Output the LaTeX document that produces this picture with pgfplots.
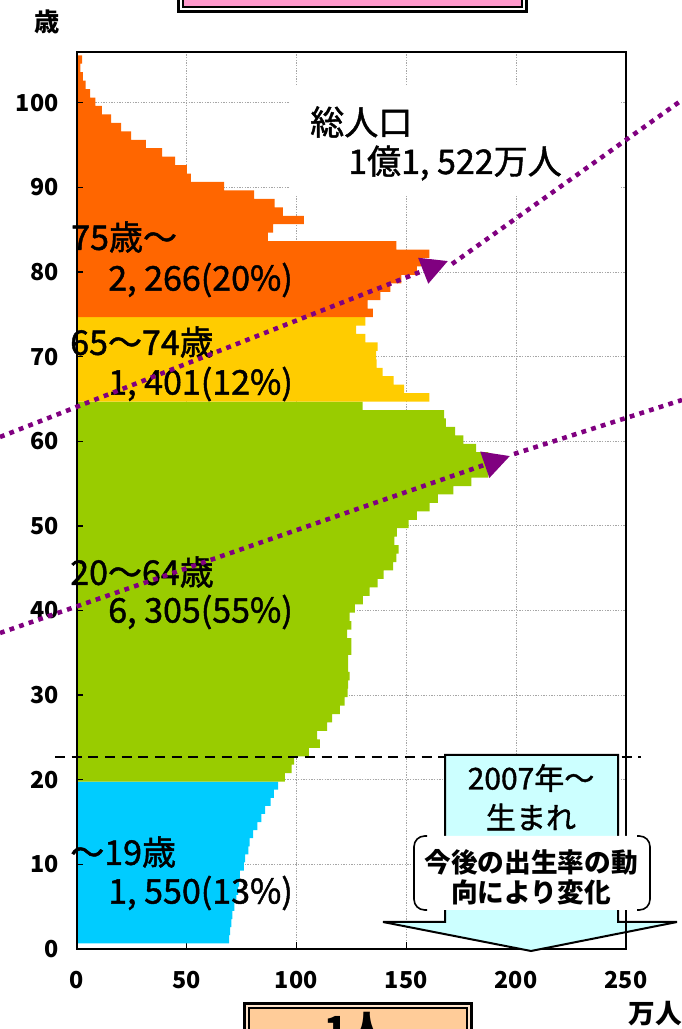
\documentclass[border=0pt]{standalone}
\usepackage{pgfplots}
\pgfplotsset{compat=1.18}
\usepackage{pgfplotstable}
\usepackage{fontspec}
\usetikzlibrary{arrows.meta}
\newfontfamily\jp{Noto Sans CJK JP}
\newfontfamily\jpm{Noto Sans CJK JP}[FakeBold=1.3]
\definecolor{orangec}{HTML}{FF6600}
\definecolor{yellowc}{HTML}{FFCC00}
\definecolor{greenc}{HTML}{99CC00}
\definecolor{cyanc}{HTML}{00CCFF}
\definecolor{boxc}{HTML}{CCFFFF}
\definecolor{purp}{HTML}{800080}
\definecolor{pinkc}{HTML}{FF99CC}
\definecolor{peach}{HTML}{FFCC99}
\newcommand\lbl{\jpm\fontsize{25.5pt}{30pt}\selectfont}
\newcommand\tickf{\jp\bfseries\fontsize{17.5pt}{20pt}\selectfont}

\pgfplotstableread{
age val
0 69.4
1 69.9
2 70.5
3 70.9
4 71.8
5 72.7
6 73.5
7 74.0
8 74.3
9 76.2
10 76.7
11 78.2
12 78.8
13 80.4
14 82.3
15 84.1
16 85.8
17 88.3
18 89.8
19 91.7
}\young
\pgfplotstableread{
age val
20 94.8
21 97.9
22 99.0
23 105.7
24 110.7
25 109.5
26 114.0
27 116.3
28 119.8
29 122.0
30 123.4
31 123.6
32 124.3
33 123.6
34 123.6
35 125.1
36 125.1
37 123.1
38 125.1
39 124.3
40 126.6
41 130.3
42 133.4
43 137.0
44 139.7
45 144.0
46 145.5
47 146.6
48 144.6
49 145.8
50 151.1
51 154.9
52 160.6
53 164.4
54 171.5
55 179.6
56 187.4
57 187.4
58 187.4
59 181.8
60 176.0
61 172.3
62 168.0
63 167.3
64 130.2
}\work
\pgfplotstableread{
age val
65 160.5
66 149.1
67 144.3
68 139.3
69 136.5
70 136.3
71 137.0
72 131.4
73 127.2
74 131.4
}\early
\pgfplotstableread{
age val
75 134.8
76 132.5
77 138.2
78 142.8
79 147.8
80 154.9
81 157.0
82 160.5
83 145.5
84 87.1
85 89.4
86 103.4
87 93.9
88 90.1
89 80.8
90 67.2
91 52.0
92 50.2
93 44.9
94 38.9
95 31.6
96 24.8
97 20.3
98 15.7
99 11.6
100 8.6
101 6.2
102 4.1
103 2.9
104 1.8
105 2.6
}\old

\begin{document}
\begin{tikzpicture}
\useasboundingbox (0,0) rectangle (511.5pt,771.75pt);
\clip (0,0) rectangle (511.5pt,771.75pt);
\begin{axis}[
  at={(57.375pt,60pt)}, anchor=south west, scale only axis,
  width=412.125pt, height=672.75pt,
  xmin=0, xmax=250, ymin=0, ymax=106,
  xtick={0,50,100,150,200,250}, ytick={0,10,...,100},
  tick pos=left, tick align=inside, major tick length=5pt,
  tick style={black, line width=1pt},
  grid=major,
  major grid style={gray!70, line width=0.6pt, dash pattern=on 1pt off 1pt},
  axis line style={line width=1.1pt},
  /pgf/number format/assume math mode=true,
  ticklabel style={font=\tickf},
  xticklabel style={yshift=-13pt},
  yticklabel style={xshift=-10pt},
  clip=false,
]
\addplot[xbar, bar shift=0pt, bar width=0.9555, fill=cyanc, draw=none,
  y filter/.expression={1.148+0.9555*y}] table[x=val,y=age]{\young};
\addplot[xbar, bar shift=0pt, bar width=0.998, fill=greenc, draw=none,
  y filter/.expression={0.32+0.998*y}] table[x=val,y=age]{\work};
\addplot[xbar, bar shift=0pt, bar width=0.998, fill=yellowc, draw=none,
  y filter/.expression={0.32+0.998*y}] table[x=val,y=age]{\early};
\addplot[xbar, bar shift=0pt, bar width=0.998, fill=orangec, draw=none,
  y filter/.expression={0.32+0.998*y}] table[x=val,y=age]{\old};
\fill[white] (axis cs:97,89.1) rectangle (axis cs:247.5,102.1);
\draw[line width=1.5pt] (axis cs:0,106) -- (axis cs:0,0) -- (axis cs:250,0);
\pgfplotsinvokeforeach{10,20,30,40,50,60,70,80,90,100}{
  \draw[line width=1pt] (axis cs:0,#1) -- ++(5pt,0pt);
}
\end{axis}
\begin{scope}[x=0.75pt,y=-0.75pt,yshift=771.75pt]
% dashed line
\draw[line width=1.9pt, dash pattern=on 7.5pt off 5pt] (55,757) -- (641,757);
% callout
\filldraw[fill=boxc, line width=1.5pt, line join=miter] (445,755) -- (618,755) -- (618,922) -- (677,922) -- (531,951) -- (383,922) -- (445,922) -- cycle;
\draw[line width=1.1pt] (626,52) -- (626,949);
\node[font=\jpm\fontsize{22.5pt}{26pt}\selectfont, inner sep=0] at (531,778) {2007年～};
\node[font=\jpm\fontsize{22.5pt}{26pt}\selectfont, inner sep=0] at (531,817) {生まれ};
\fill[white, rounded corners=8pt] (414,836) rectangle (650,910);
\draw[line width=1.2pt, rounded corners=8pt] (427,836) -- (414,836) -- (414,910) -- (427,910);
\draw[line width=1.2pt, rounded corners=8pt] (637,836) -- (650,836) -- (650,910) -- (637,910);
\node[font=\jp\bfseries\fontsize{20pt}{24pt}\selectfont, inner sep=0] at (531,862) {今後の出生率の動};
\node[font=\jp\bfseries\fontsize{20pt}{24pt}\selectfont, inner sep=0] at (531,892) {向により変化};
% labels
\node[font=\lbl, anchor=west, inner sep=0] at (310,122) {総人口};
\node[font=\lbl, anchor=west, inner sep=0] at (348,163) {1億1, 522万人};
\node[font=\lbl, anchor=west, inner sep=0] at (71,237) {75歳～};
\node[font=\lbl, anchor=west, inner sep=0] at (108,280) {2, 266(20\%)};
\node[font=\lbl, anchor=west, inner sep=0] at (70,342) {65～74歳};
\node[font=\lbl, anchor=west, inner sep=0] at (108,384) {1, 401(12\%)};
\node[font=\lbl, anchor=west, inner sep=0] at (70,572) {20～64歳};
\node[font=\lbl, anchor=west, inner sep=0] at (108,612) {6, 305(55\%)};
\node[font=\lbl, anchor=west, inner sep=0] at (70,852) {～19歳};
\node[font=\lbl, anchor=west, inner sep=0] at (108,893) {1, 550(13\%)};
% purple dotted arrows
\draw[purp, line width=3.4pt, dash pattern=on 3.6pt off 4pt, -{Triangle[length=20pt,width=20pt]}] (0,437) -- (448,261);
\draw[purp, line width=3.4pt, dash pattern=on 3.6pt off 4pt] (452,264) -- (682,100);
\draw[purp, line width=3.4pt, dash pattern=on 3.6pt off 4pt, -{Triangle[length=20pt,width=20pt]}] (0,633) -- (510,456);
\draw[purp, line width=3.4pt, dash pattern=on 3.6pt off 4pt] (514,454) -- (682,400);
% top box
\fill[black] (177,-50) rectangle (528,13);
\fill[white] (180,-50) rectangle (525,10);
\fill[black] (182,-50) rectangle (523,8);
\fill[pinkc] (184,-50) rectangle (521,6);
% bottom box
\fill[black] (243,1002) rectangle (473,1080);
\fill[peach!50!white] (246,1005) rectangle (470,1080);
\fill[black] (248,1007) rectangle (468,1080);
\fill[peach] (250,1009) rectangle (466,1080);
\node[anchor=north, inner sep=0, font=\jp\bfseries\fontsize{29pt}{32pt}\selectfont] at (356,1012) {1人};
% axis titles
\node[font=\jp\bfseries\fontsize{19pt}{22pt}\selectfont, inner sep=0] at (47,22) {歳};
\node[font=\jp\bfseries\fontsize{20pt}{22pt}\selectfont, inner sep=0] at (655,1014) {万人};
\end{scope}
\end{tikzpicture}
\end{document}
